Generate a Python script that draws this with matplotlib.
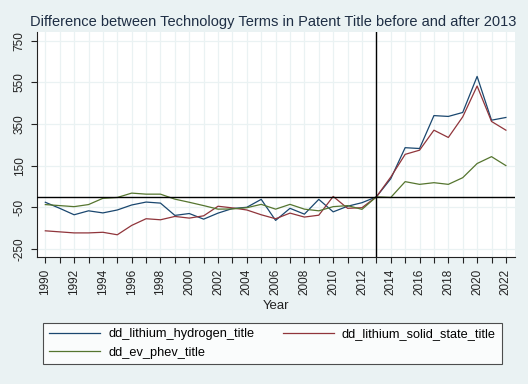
import numpy as np
import matplotlib.pyplot as plt

plt.rcParams['font.family'] = ['Liberation Sans', 'DejaVu Sans']

years = np.arange(1990, 2023)

# differences
dd_lithium_hydrogen_title = [-26, -55, -86, -67, -77, -63, -39, -25, -30, -89, -80,
                             -107, -78, -56, -50, -12, -113, -55, -83, -12, -72, -45,
                             -28, 0, 87, 236, 232, 390, 386, 405, 578, 368, 381]
dd_lithium_solid_state_title = [-163, -168, -173, -173, -170, -182, -137, -105, -110, -94, -102,
                                -91, -45, -53, -63, -86, -105, -78, -97, -88, 2, -55,
                                -52, 0, 95, 204, 224, 320, 285, 384, 532, 362, 320]
dd_ev_phev_title = [-37, -42, -47, -37, -7, -3, 18, 13, 13, -11, -26,
                    -42, -59, -58, -52, -36, -59, -36, -59, -67, -47, -42,
                    -60, 0, -3, 73, 60, 68, 60, 92, 160, 193, 150]

series_names = ['dd_lithium_hydrogen_title', 'dd_lithium_solid_state_title', 'dd_ev_phev_title']
colors = ['#1a476f', '#90353b', '#55752f']
yticks = [-250, -50, 150, 350, 550, 750]

bg = '#eaf2f3'
fig = plt.figure(figsize=(5.28, 3.84), dpi=100, facecolor=bg)
ax = fig.add_axes([0.0695, 0.330, 0.905, 0.586])
ax.set_facecolor('white')

lines = []
for vals, name, c in zip([dd_lithium_hydrogen_title, dd_lithium_solid_state_title, dd_ev_phev_title],
                         series_names, colors):
    ln, = ax.plot(years, vals, color=c, lw=0.9, label=name, zorder=3)
    lines.append(ln)

ax.axhline(0, color='black', lw=1.0, zorder=4)
ax.axvline(2013, color='black', lw=1.0, zorder=4)

ax.set_xlim(1989.4, 2022.6)
ax.set_ylim(-290, 790)
ax.set_xticks(years, minor=True)
ax.set_xticks(years[::2])
ax.set_xticklabels([str(y) for y in years[::2]], rotation=90, fontsize=8.5, color='#222222')
ax.set_yticks(yticks)
ax.set_yticklabels([str(v) for v in yticks], rotation=90, va='center', fontsize=8.5, color='#222222')
ax.tick_params(axis='both', which='both', direction='out', length=4.5, width=0.8, color='#222222')
ax.tick_params(axis='x', which='major', pad=4)
ax.grid(True, which='both', axis='x', color=bg, lw=0.9, zorder=0)
ax.grid(True, which='major', axis='y', color=bg, lw=0.9, zorder=0)

for s in ['top', 'right']:
    ax.spines[s].set_visible(False)
for s in ['left', 'bottom']:
    ax.spines[s].set_color('#222222')
    ax.spines[s].set_linewidth(0.8)

ax.set_xlabel('Year', fontsize=9.5, color='#222222', labelpad=3)
fig.text(0.517, 0.942, 'Difference between Technology Terms in Patent Title before and after 2013',
         ha='center', va='center', fontsize=10.5, color='#1e2e44')

# row-wise order like the reference: hydrogen, solid state / ev
order = [lines[0], lines[2], lines[1]]
leg = fig.legend(order, [l.get_label() for l in order], loc='center',
                 bbox_to_anchor=(0.516, 0.1055, 0, 0), bbox_transform=fig.transFigure,
                 ncol=2, fontsize=9.2, frameon=True, fancybox=False, handlelength=4.0,
                 handletextpad=0.65, columnspacing=2.2, borderpad=0.45, labelspacing=0.5)
leg.get_frame().set_edgecolor('#222222')
leg.get_frame().set_linewidth(0.8)

fig.savefig('out.png', dpi=100, facecolor=bg)
